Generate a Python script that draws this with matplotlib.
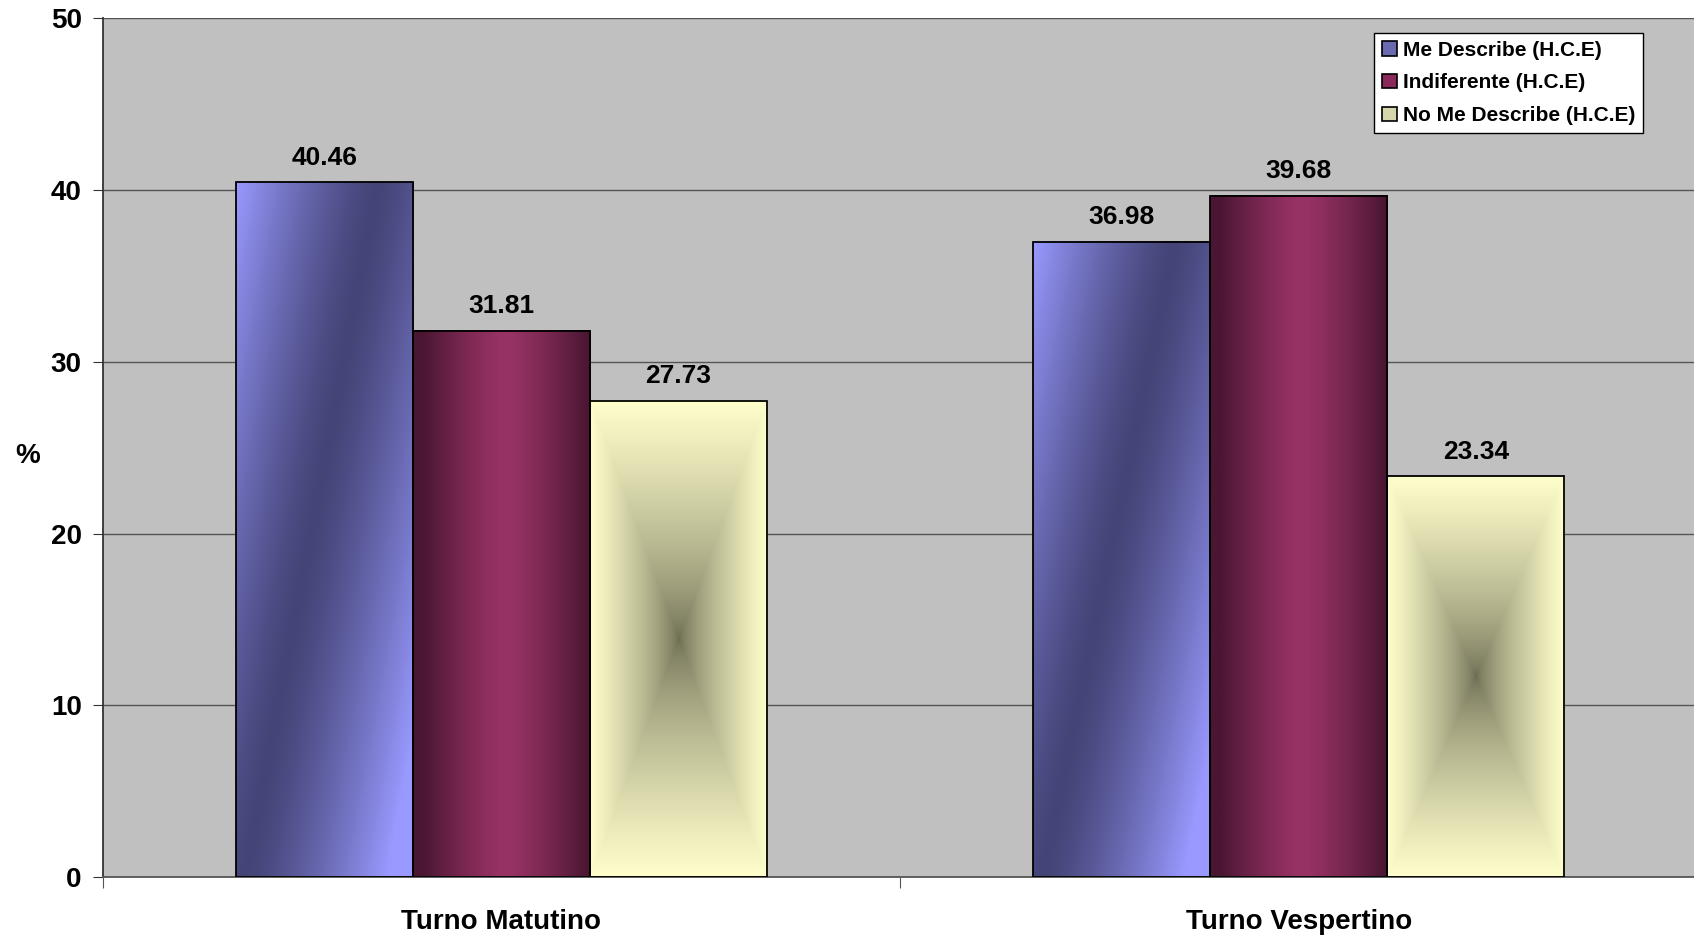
import numpy as np
import matplotlib
matplotlib.use('Agg')
import matplotlib.pyplot as plt
from matplotlib.patches import Patch

plt.rcParams['font.family'] = ['Liberation Sans', 'DejaVu Sans']
plt.rcParams['font.weight'] = 'bold'

# data
categorias = ['Turno Matutino', 'Turno Vespertino']
series = ['Me Describe (H.C.E)', 'Indiferente (H.C.E)', 'No Me Describe (H.C.E)']
me_describe = [40.46, 36.98]
indiferente = [31.81, 39.68]
no_me_describe = [27.73, 23.34]
y_ticks = [0, 10, 20, 30, 40, 50]


def hexrgb(h):
    h = h.lstrip('#')
    return np.array([int(h[i:i + 2], 16) for i in (0, 2, 4)]) / 255.0


def lerp(c0, c1, t):
    return c0[None, None, :] + (c1 - c0)[None, None, :] * t[:, :, None]


def grad_blue(nx=120, ny=400):
    u, w = np.meshgrid(np.linspace(0, 1, nx), np.linspace(0, 1, ny))
    ud = 0.8 - 0.75 * w
    t = np.clip(np.abs(u - ud) / 0.8, 0, 1) ** 1.3
    return lerp(hexrgb('#444477'), hexrgb('#9999ff'), t)


def grad_red(nx=120, ny=4):
    u, w = np.meshgrid(np.linspace(0, 1, nx), np.linspace(0, 1, ny))
    t = np.clip(np.abs(u - 0.52) / 0.47, 0, 1) ** 1.3
    return lerp(hexrgb('#993366'), hexrgb('#4a1632'), t)


def grad_yellow(nx=160, ny=400):
    u, w = np.meshgrid(np.linspace(0, 1, nx), np.linspace(0, 1, ny))
    t = np.maximum(np.abs(u - 0.5) / 0.5, np.abs(w - 0.5) / 0.5)
    t = np.clip(t, 0, 1) ** 0.7
    return lerp(hexrgb('#6b6b52'), hexrgb('#ffffcc'), t)


fig = plt.figure(figsize=(16.94, 9.38), dpi=100)
ax = fig.add_axes([0.0606, 0.065, 0.9414, 0.9154])
ax.set_facecolor('#c0c0c0')

x = np.arange(len(categorias))
w = 0.222
valores = [me_describe, indiferente, no_me_describe]
grads = [grad_blue, grad_red, grad_yellow]

for i, (vals, g) in enumerate(zip(valores, grads)):
    bars = ax.bar(x + (i - 1) * w, vals, w, facecolor='none', edgecolor='black',
                  linewidth=1.3, zorder=3)
    for b, v in zip(bars, vals):
        x0, y0 = b.get_x(), b.get_y()
        ax.imshow(g(), extent=(x0, x0 + b.get_width(), y0, y0 + b.get_height()),
                  aspect='auto', zorder=2, interpolation='bilinear')
        ax.annotate(f'{v:.2f}', (b.get_x() + b.get_width() / 2, v),
                    xytext=(0, 9), textcoords='offset points', ha='center',
                    va='bottom', fontsize=19, fontweight='bold')

ax.set_xlim(-0.5, 1.5)
ax.set_ylim(0, 50)
ax.set_yticks(y_ticks)
ax.yaxis.grid(True, color='#555555', linewidth=1)
ax.set_axisbelow(True)

ax.set_xticks([-0.5, 0.5, 1.5])
ax.set_xticklabels([])
ax.set_xticks(x, minor=True)
ax.set_xticklabels(categorias, minor=True, fontsize=20, fontweight='bold')
ax.tick_params(axis='x', which='minor', length=0, pad=23)
ax.tick_params(axis='x', which='major', length=8, color='#555555')
ax.tick_params(axis='y', length=7, pad=8, color='#333333', labelsize=20)

for s in ['top', 'right']:
    ax.spines[s].set_visible(False)
ax.spines['left'].set_color('#333333')
ax.spines['left'].set_linewidth(1.3)
ax.spines['bottom'].set_color('#555555')
ax.spines['bottom'].set_linewidth(1.3)

ax.set_ylabel('%', rotation=0, fontsize=20, fontweight='bold', va='center')
ax.yaxis.set_label_coords(-0.047, 0.49)

handles = [Patch(facecolor=c, edgecolor='black', linewidth=1.2)
           for c in ['#6a6ab0', '#8b2a5a', '#d6d6ac']]
leg = ax.legend(handles, series, loc='upper right',
                bbox_to_anchor=(0.970, 0.965), bbox_transform=fig.transFigure,
                prop={'size': 15, 'weight': 'bold'}, frameon=True, fancybox=False,
                framealpha=1, handlelength=0.7, handleheight=0.7, handletextpad=0.3,
                labelspacing=0.66, borderpad=0.38, borderaxespad=0)
leg.get_frame().set_edgecolor('black')
leg.get_frame().set_facecolor('white')
leg.get_frame().set_linewidth(1.0)
leg.set_zorder(5)

fig.savefig('out.png', dpi=100)
